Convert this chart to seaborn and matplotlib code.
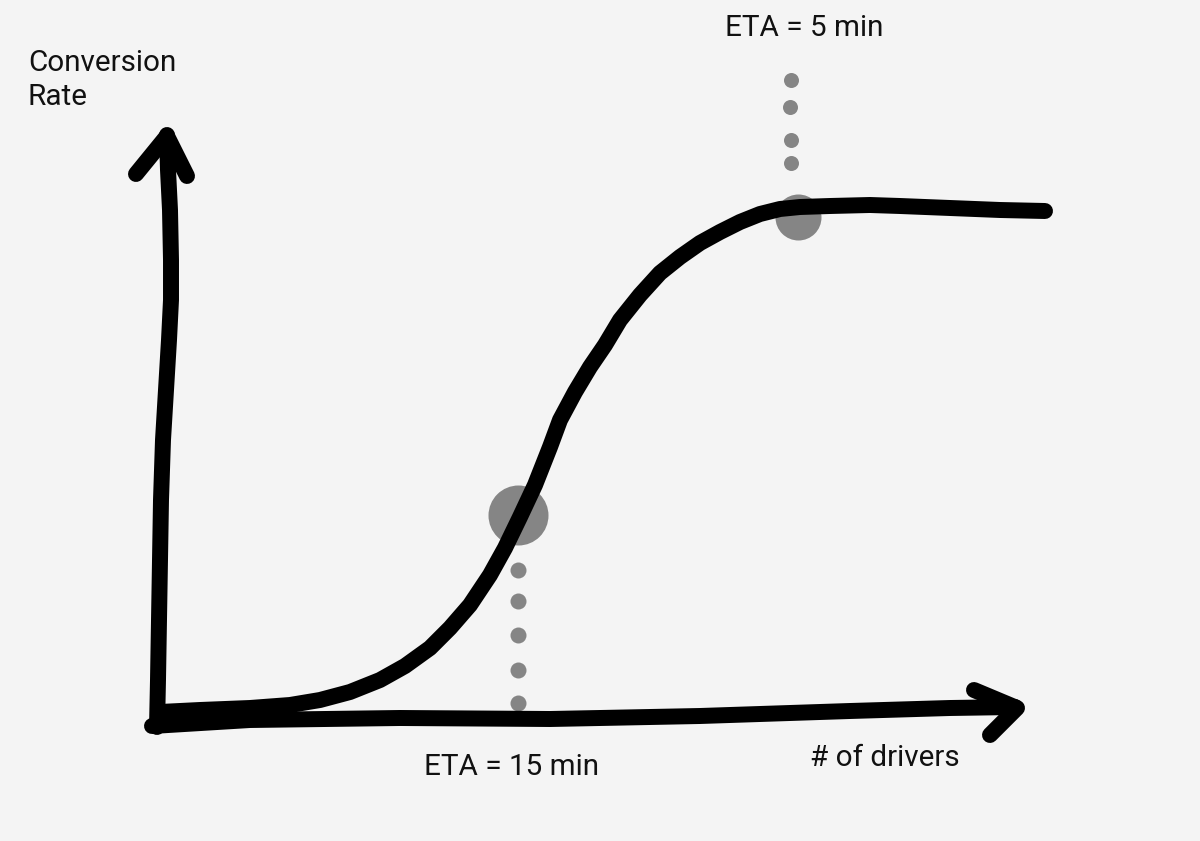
import numpy as np
import pandas as pd
import matplotlib
matplotlib.use("Agg")
import matplotlib.pyplot as plt
import seaborn as sns

# sketch points (pixel coords, y grows down)
curve_x = [160, 200, 250, 290, 320, 350, 380, 405, 430, 450, 470, 490, 505, 520, 535, 550, 560, 575,
           590, 605, 620, 640, 660, 680, 700, 720, 740, 760, 780, 800, 830, 870, 900, 950, 1000, 1045]
curve_y = [712, 710, 708, 705, 700, 692, 680, 666, 648, 628, 605, 575, 548, 517, 485, 447, 420, 392,
           367, 345, 320, 295, 273, 257, 243, 232, 222, 214, 209, 207, 206, 205, 206, 208, 210, 211]

yaxis_x = [157, 158, 159, 160, 161, 163, 166, 169, 171, 171, 170, 168, 167]
yaxis_y = [727, 680, 620, 560, 500, 440, 390, 340, 300, 260, 210, 170, 135]
yarrow_x = [136, 167, 187]
yarrow_y = [174, 136, 176]

xaxis_x = [152, 250, 400, 550, 700, 850, 950, 1015]
xaxis_y = [726, 720, 718, 719, 716, 711, 708, 707]
xarrow_x = [974, 1017, 990]
xarrow_y = [690, 708, 735]

eta15_x, eta15_y = 518, 515
eta15_dots_y = [570, 601, 635, 670, 703]
eta5_x, eta5_y = 798, 217
eta5_dots_x = [791, 790, 791, 791]
eta5_dots_y = [80, 107, 140, 163]

labels = {
    "Conversion\nRate": (28, 49),
    "ETA = 5 min": (725, 14),
    "ETA = 15 min": (424, 753),
    "# of drivers": (810, 744),
}

sns.set_theme(style="white")
plt.rcParams["font.family"] = ["Roboto", "DejaVu Sans"]
bg = "#f4f4f4"
grey = "#858585"

fig = plt.figure(figsize=(12, 8.41), dpi=100, facecolor=bg)
ax = fig.add_axes([0, 0, 1, 1])
ax.set_facecolor(bg)

# grey markers behind the curve
ax.scatter([eta15_x], [eta15_y], s=(2 * 30 * 0.72) ** 2, color=grey, zorder=1, linewidths=0)
ax.scatter([eta5_x], [eta5_y], s=(2 * 23 * 0.72) ** 2, color=grey, zorder=1, linewidths=0)
ax.scatter([eta15_x] * len(eta15_dots_y), eta15_dots_y, s=(2 * 8 * 0.72) ** 2, color=grey, zorder=1, linewidths=0)
ax.scatter(eta5_dots_x, eta5_dots_y, s=(2 * 7.5 * 0.72) ** 2, color=grey, zorder=1, linewidths=0)

lw = 11.5
style = dict(color="black", linewidth=lw, solid_capstyle="round", solid_joinstyle="round", zorder=3)
df = pd.DataFrame({"x": curve_x, "y": curve_y})
sns.lineplot(data=df, x="x", y="y", ax=ax, sort=False, estimator=None, **style)
ax.plot(yaxis_x, yaxis_y, **style)
ax.plot(yarrow_x, yarrow_y, **style)
ax.plot(xaxis_x, xaxis_y, **style)
ax.plot(xarrow_x, xarrow_y, **style)
ax.set_xlim(0, 1200)
ax.set_ylim(841, 0)
ax.axis("off")

for txt, (tx, ty) in labels.items():
    ax.text(tx, ty, txt, fontsize=21.3, color="#111111", ha="left", va="top", linespacing=1.25)

fig.savefig("out.png", dpi=100, facecolor=bg)
